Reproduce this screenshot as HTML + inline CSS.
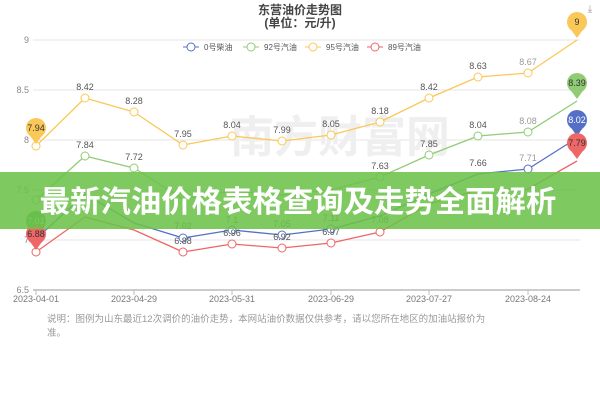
<!DOCTYPE html>
<html><head><meta charset="utf-8"><style>
body{margin:0;width:600px;height:400px;overflow:hidden;background:#fff;font-family:"Liberation Sans","Noto Sans CJK SC",sans-serif}
</style></head><body>
<svg width="600" height="400" xmlns="http://www.w3.org/2000/svg" style="position:absolute;left:0;top:0">
<g font-family="Liberation Sans, Noto Sans CJK SC, sans-serif">
<text x="300" y="14" text-anchor="middle" font-size="12" font-weight="bold" fill="#444">东营油价走势图</text>
<text x="300" y="27" text-anchor="middle" font-size="12" font-weight="bold" fill="#444">(单位：元/升)</text>
<g stroke="#e6e6e6" stroke-width="1">
<line x1="33" y1="40" x2="580" y2="40"/><line x1="33" y1="90" x2="580" y2="90"/>
<line x1="33" y1="140" x2="580" y2="140"/><line x1="33" y1="190" x2="580" y2="190"/>
<line x1="33" y1="240" x2="580" y2="240"/>
</g>
<line x1="33" y1="290" x2="580" y2="290" stroke="#bbb" stroke-width="1.5"/>
<g font-size="9" fill="#888" text-anchor="end">
<text x="29" y="43">9</text><text x="29" y="93">8.5</text><text x="29" y="143">8</text>
<text x="29" y="193">7.5</text><text x="29" y="243">7</text><text x="29" y="293">6.5</text>
</g>
<g font-size="9" fill="#777" text-anchor="middle">
<text x="36" y="302">2023-04-01</text><text x="134" y="302">2023-04-29</text><text x="232" y="302">2023-05-31</text>
<text x="331" y="302">2023-06-29</text><text x="429" y="302">2023-07-27</text><text x="528" y="302">2023-08-24</text>
</g>
<g stroke="#bbb"><line x1="36" y1="290" x2="36" y2="295"/><line x1="134" y1="290" x2="134" y2="295"/><line x1="232" y1="290" x2="232" y2="295"/><line x1="331" y1="290" x2="331" y2="295"/><line x1="429" y1="290" x2="429" y2="295"/><line x1="528" y1="290" x2="528" y2="295"/></g>
<g font-size="8" fill="#555">
<line x1="183" y1="47" x2="199" y2="47" stroke="#5470c6"/><circle cx="191" cy="47" r="4" fill="#fff" stroke="#5470c6"/><text x="204" y="50">0号柴油</text>
<line x1="243" y1="47" x2="259" y2="47" stroke="#91cc75"/><circle cx="251" cy="47" r="4" fill="#fff" stroke="#91cc75"/><text x="264" y="50">92号汽油</text>
<line x1="305" y1="47" x2="321" y2="47" stroke="#fac858"/><circle cx="313" cy="47" r="4" fill="#fff" stroke="#fac858"/><text x="326" y="50">95号汽油</text>
<line x1="367" y1="47" x2="383" y2="47" stroke="#ee6666"/><circle cx="375" cy="47" r="4" fill="#fff" stroke="#ee6666"/><text x="388" y="50">89号汽油</text>
</g>
<text x="590" y="12" font-size="10" fill="#999" text-anchor="middle">⤓</text>
<text x="340" y="152" font-size="44" fill="#efefef" text-anchor="middle" font-weight="bold">南方财富网</text>
<g fill="none" stroke-width="1.3" stroke-linejoin="round">
<polyline stroke="#fac858" points="36,146 85,98 134,112 183,145 232,136 282,141 331,135 380,122 429,98 478,77 528,73 577,40"/>
<polyline stroke="#91cc75" points="36,200 85,156 134,168 183,199 232,191 282,195 331,190 380,177 429,155 478,136 528,132 577,101"/>
<polyline stroke="#5470c6" points="36,239 85,194 134,223 183,238 232,230 282,235 331,229 380,216 429,194 478,174 528,169 577,138"/>
<polyline stroke="#ee6666" points="36,252 85,217 134,230 183,252 232,244 282,248 331,243 380,232 429,204 478,190 528,189 577,161"/>
</g>
<g fill="#fff" stroke-width="1">
<g stroke="#fac858"><circle cx="36" cy="146" r="4"/><circle cx="85" cy="98" r="4"/><circle cx="134" cy="112" r="4"/><circle cx="183" cy="145" r="4"/><circle cx="232" cy="136" r="4"/><circle cx="282" cy="141" r="4"/><circle cx="331" cy="135" r="4"/><circle cx="380" cy="122" r="4"/><circle cx="429" cy="98" r="4"/><circle cx="478" cy="77" r="4"/><circle cx="528" cy="73" r="4"/></g>
<g stroke="#91cc75"><circle cx="36" cy="200" r="4"/><circle cx="85" cy="156" r="4"/><circle cx="134" cy="168" r="4"/><circle cx="380" cy="177" r="4"/><circle cx="429" cy="155" r="4"/><circle cx="478" cy="136" r="4"/><circle cx="528" cy="132" r="4"/></g>
<g stroke="#5470c6"><circle cx="183" cy="238" r="4"/><circle cx="232" cy="230" r="4"/><circle cx="282" cy="235" r="4"/><circle cx="331" cy="229" r="4"/><circle cx="528" cy="169" r="4"/></g>
<g stroke="#ee6666"><circle cx="36" cy="252" r="4"/><circle cx="183" cy="252" r="4"/><circle cx="232" cy="244" r="4"/><circle cx="282" cy="248" r="4"/><circle cx="331" cy="243" r="4"/><circle cx="380" cy="232" r="4"/></g>
</g>
<g font-size="9" fill="#555" text-anchor="middle">
<text x="85" y="90">8.42</text><text x="134" y="104">8.28</text><text x="183" y="137">7.95</text><text x="232" y="128">8.04</text><text x="282" y="133">7.99</text><text x="331" y="127">8.05</text><text x="380" y="114">8.18</text><text x="429" y="90">8.42</text><text x="478" y="69">8.63</text><text x="528" y="65" fill="#999">8.67</text>
<text x="85" y="148">7.84</text><text x="134" y="160">7.72</text><text x="380" y="169">7.63</text><text x="429" y="147">7.85</text><text x="478" y="128">8.04</text><text x="528" y="124" fill="#999">8.08</text><text x="478" y="166">7.66</text><text x="528" y="161" fill="#999">7.71</text>
<text x="183" y="229">7.02</text><text x="232" y="223">7.1</text><text x="282" y="227">7.05</text><text x="331" y="221">7.11</text><text x="380" y="223">7.08</text>
<text x="183" y="244">6.88</text><text x="232" y="236">6.96</text><text x="282" y="240">6.92</text><text x="331" y="235">6.97</text>
</g>
<g font-size="9" text-anchor="middle">
<g fill="#fac858"><circle cx="577" cy="22" r="10"/><path d="M569,27 L577,38 L585,27Z"/></g><text x="577" y="25" fill="#333">9</text>
<g fill="#91cc75"><circle cx="577" cy="83" r="10"/><path d="M569,88 L577,99 L585,88Z"/></g><text x="577" y="86" fill="#333">8.39</text>
<g fill="#5470c6"><circle cx="577" cy="120" r="10"/><path d="M569,125 L577,136 L585,125Z"/></g><text x="577" y="123" fill="#fff">8.02</text>
<g fill="#ee6666"><circle cx="577" cy="143" r="10"/><path d="M569,148 L577,159 L585,148Z"/></g><text x="577" y="146" fill="#333">7.79</text>
<g fill="#fac858"><circle cx="36" cy="128" r="10"/><path d="M28,133 L36,144 L44,133Z"/></g><text x="36" y="131" fill="#333">7.94</text>
<g fill="#4caf50"><circle cx="36" cy="221" r="10"/><path d="M28,226 L36,237 L44,226Z"/></g><text x="36" y="224" fill="#fff">7.01</text>
<g fill="#ee6666"><circle cx="36" cy="234" r="10"/><path d="M28,239 L36,250 L44,239Z"/></g><text x="36" y="237" fill="#333">6.88</text>
</g>
<g font-size="9.5" fill="#999">
<text x="47" y="322">说明：图例为山东最近12次调价的油价走势，本网站油价数据仅供参考，请以您所在地区的加油站报价为</text>
<text x="47" y="336">准。</text>
</g>
<rect x="0" y="172" width="600" height="57" fill="#6cc24a" opacity="0.88"/>
<text x="298" y="212" text-anchor="middle" font-size="30.4" font-weight="bold" fill="#fff">最新汽油价格表格查询及走势全面解析</text>
</g>
</svg>
</body></html>
